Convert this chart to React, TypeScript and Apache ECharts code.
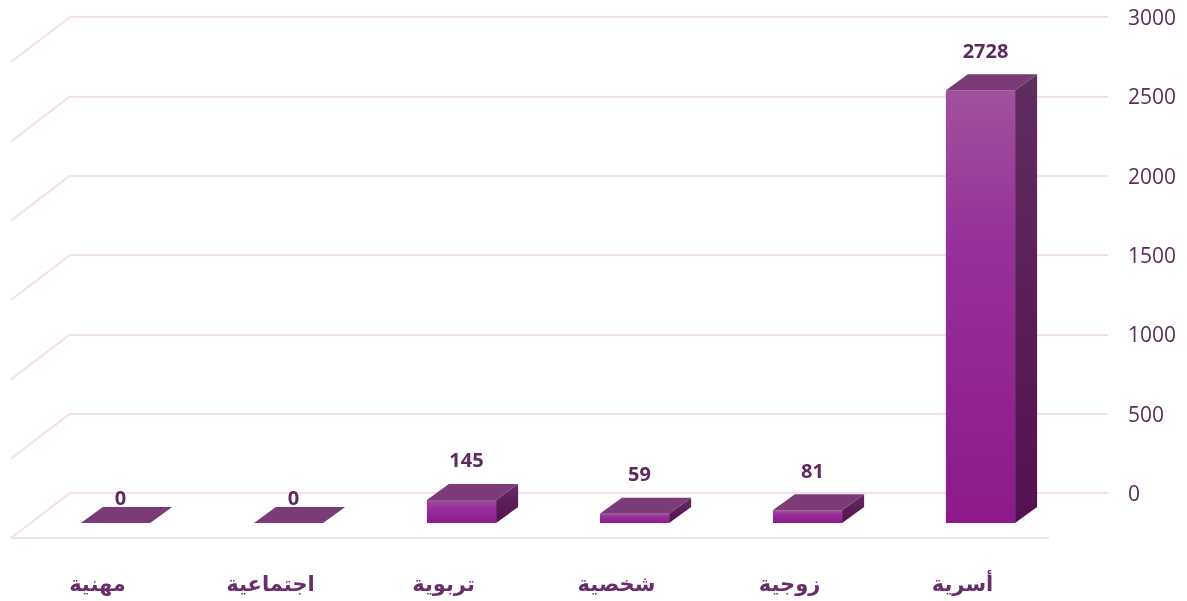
import React, { useEffect, useRef } from "react";
import * as echarts from "echarts";

const categories = ["أسرية", "زوجية", "شخصية", "تربوية", "اجتماعية", "مهنية"];
const values = [2728, 81, 59, 145, 0, 0];
const yTicks = [0, 500, 1000, 1500, 2000, 2500, 3000];

// perspective offsets (pixels)
const WALL_DX = -59;
const WALL_DY = 45;
const FRONT_DX = -41;
const FRONT_DY = 30;
const DEPTH_DX = 22;
const DEPTH_DY = -16;

export default function App() {
  const ref = useRef<HTMLDivElement>(null);
  useEffect(() => {
    if (!ref.current) return;
    const chart = echarts.init(ref.current, undefined, { renderer: "svg" });

    const renderGrid = (params: any, api: any) => {
      const v = api.value(0);
      const p = api.coord([0, v]);
      const cs = params.coordSys;
      const x0 = cs.x;
      const stroke = "#f2e0f1";
      const children: any[] = [
        {
          type: "line",
          shape: { x1: x0, y1: p[1], x2: x0 + WALL_DX, y2: p[1] + WALL_DY },
          style: { stroke, lineWidth: 2 },
        },
      ];
      if (v === 0) {
        children.push({
          type: "line",
          shape: {
            x1: x0 + WALL_DX,
            y1: p[1] + WALL_DY,
            x2: x0 + cs.width + WALL_DX,
            y2: p[1] + WALL_DY,
          },
          style: { stroke, lineWidth: 2 },
        });
      }
      return { type: "group", children };
    };

    const renderBar = (params: any, api: any) => {
      const i = api.value(0);
      const v = api.value(1);
      const base = api.coord([i, 0]);
      const top = api.coord([i, v]);
      const band = api.size([1, 0])[0];
      const w = band * 0.4;
      const cx = base[0] + FRONT_DX;
      const fl = cx - w / 2;
      const fr = cx + w / 2;
      const botF = base[1] + FRONT_DY;
      const topF = top[1] + FRONT_DY;
      const h = botF - topF;
      const children: any[] = [];
      if (h > 0) {
        children.push({
          type: "rect",
          shape: { x: fl, y: topF, width: w, height: h },
          style: {
            fill: new echarts.graphic.LinearGradient(0, 0, 0, 1, [
              { offset: 0, color: "#a0519c" },
              { offset: 0.35, color: "#96309a" },
              { offset: 1, color: "#8d1a8a" },
            ]),
          },
        });
        children.push({
          type: "polygon",
          shape: {
            points: [
              [fr, topF],
              [fr + DEPTH_DX, topF + DEPTH_DY],
              [fr + DEPTH_DX, botF + DEPTH_DY],
              [fr, botF],
            ],
          },
          style: {
            fill: new echarts.graphic.LinearGradient(0, 0, 0, 1, [
              { offset: 0, color: "#602d5f" },
              { offset: 1, color: "#551050" },
            ]),
          },
        });
      }
      children.push({
        type: "polygon",
        shape: {
          points: [
            [fl, topF],
            [fl + DEPTH_DX, topF + DEPTH_DY],
            [fr + DEPTH_DX, topF + DEPTH_DY],
            [fr, topF],
          ],
        },
        style: { fill: "#7a3b76" },
      });
      children.push({
        type: "text",
        x: cx + 5,
        y: topF - (v === 0 ? 26 : 40),
        style: {
          text: String(v),
          fill: "#5e2a5e",
          font: "bold 20px 'Open Sans', 'DejaVu Sans', sans-serif",
          align: "center",
          verticalAlign: "middle",
        },
      });
      return { type: "group", children };
    };

    chart.setOption({
      animation: false,
      grid: { left: 70, right: 79, top: 17, bottom: 108, containLabel: false },
      xAxis: {
        type: "category",
        data: categories,
        inverse: true,
        axisLine: { show: false },
        axisTick: { show: false },
        splitLine: { show: false },
        axisLabel: {
          color: "#6a2c6a",
          fontWeight: "bold",
          fontSize: 21,
          fontFamily: "'DejaVu Sans', sans-serif",
          margin: 80,
          padding: [0, 118, 0, 0],
        },
      },
      yAxis: {
        type: "value",
        position: "right",
        min: 0,
        max: 3000,
        interval: 500,
        axisLine: { show: false },
        axisTick: { show: false },
        splitLine: { show: true, lineStyle: { color: "#f2e0f1", width: 2 } },
        axisLabel: {
          color: "#5a2d5a",
          fontSize: 21,
          fontFamily: "'Open Sans', sans-serif",
          margin: 20,
          formatter: (v: number) => String(v),
        },
      },
      series: [
        {
          type: "custom",
          renderItem: renderGrid,
          data: yTicks.map((t) => [t]),
          encode: { y: 0 },
          silent: true,
          z: 1,
        },
        {
          type: "custom",
          renderItem: renderBar,
          data: values.map((v, i) => [i, v]),
          encode: { x: 0, y: 1 },
          z: 2,
        },
      ],
    });
    return () => chart.dispose();
  }, []);
  return (
    <div
      ref={ref}
      style={{ position: "fixed", left: 0, top: 0, width: 1187, height: 601 }}
    />
  );
}
